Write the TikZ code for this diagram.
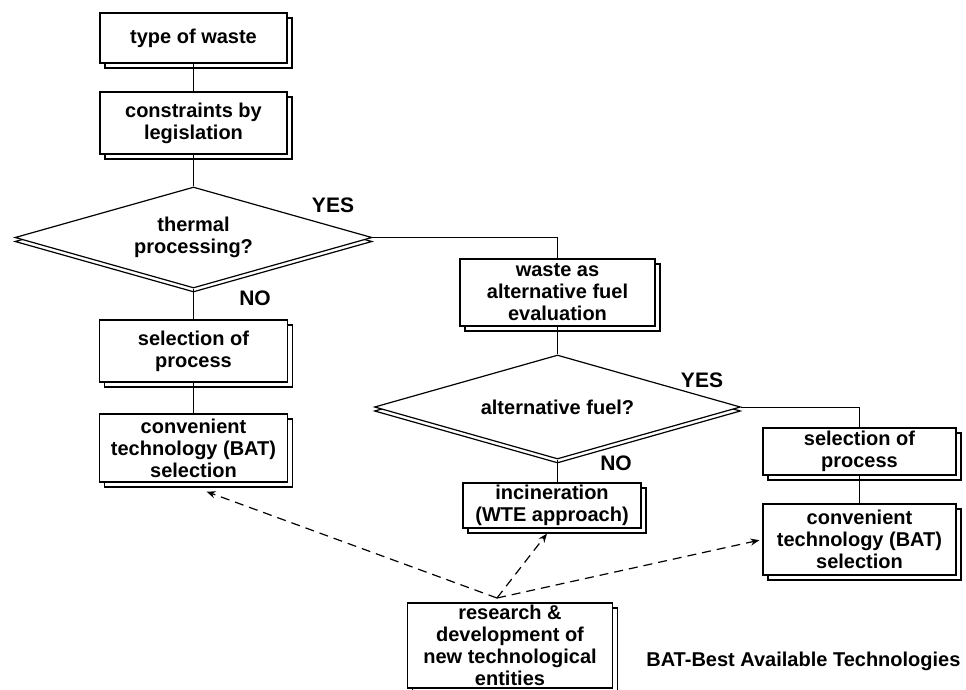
\documentclass[tikz,border=0pt]{standalone}
\usepackage{fontspec}
\setmainfont{Liberation Sans}
\usetikzlibrary{shapes.geometric,shadows,arrows.meta}

\tikzset{
  every node/.style={font=\bfseries\fontsize{20}{22}\selectfont},
  stepbox/.style={draw, fill=white, line width=1.2pt, align=center, inner sep=2pt,
    copy shadow={shadow xshift=5pt, shadow yshift=-5pt}},
  decision/.style={draw, fill=white, line width=1.2pt, shape=diamond, aspect=3.5,
    inner sep=0pt, align=center,
    copy shadow={shadow xshift=0pt, shadow yshift=-4pt}},
  flow/.style={line width=1pt},
  rdarrow/.style={line width=1.2pt, dash pattern=on 9pt off 6pt,
    -{Stealth[length=9pt,width=7pt]}},
  answer/.style={font=\bfseries\fontsize{21}{22}\selectfont}
}

\begin{document}
\begin{tikzpicture}[x=1pt,y=-1pt]
\useasboundingbox (0,0) rectangle (966,689);

% left column
\node[stepbox, minimum width=187, minimum height=50] (type) at (193.5,38) {type of waste};
\node[stepbox, minimum width=187, minimum height=62] (constr) at (193.5,123) {constraints by\\legislation};
\node[decision, minimum width=357, minimum height=101] (thermal) at (193.5,237.5) {thermal\\processing?};
\node[stepbox, minimum width=188, minimum height=62] (selL) at (193.5,351) {selection of\\process};
\node[stepbox, minimum width=188, minimum height=68] (convL) at (193.5,448) {convenient\\technology (BAT)\\selection};

% middle column
\node[stepbox, minimum width=195, minimum height=67] (waste) at (557.5,292.5) {waste as\\alternative fuel\\evaluation};
\node[decision, minimum width=366, minimum height=104] (alt) at (557.5,407) {alternative fuel?};
\node[stepbox, minimum width=178, minimum height=45] (incin) at (552,505.5) {incineration\\(WTE approach)};
\node[stepbox, minimum width=205, minimum height=85] (research) at (510,645.5) {research \&\\development of\\new technological\\entities};

% right column
\node[stepbox, minimum width=193, minimum height=47] (selR) at (859.5,451.5) {selection of\\process};
\node[stepbox, minimum width=193, minimum height=71] (convR) at (859.5,539.5) {convenient\\technology (BAT)\\selection};

% answers
\node[answer] (yes1) at (333,205) {YES};
\node[answer] (no1) at (255,298) {NO};
\node[answer] (yes2) at (702,380) {YES};
\node[answer] (no2) at (616,463) {NO};

% footnote
\node[anchor=east] (note) at (964,661) {BAT-Best Available Technologies};

% solid flow lines
\draw[flow] (type) -- (constr);
\draw[flow] (constr) -- (thermal.north);
\draw[flow] (thermal.east) -| (waste.north);
\draw[flow] (thermal.south) -- (selL.north);
\draw[flow] (selL) -- (convL);
\draw[flow] (waste) -- (alt.north);
\draw[flow] (alt.east) -| (selR.north);
\draw[flow] (alt.south) -- (alt.south |- incin.north);
\draw[flow] (selR) -- (convR);

% research links
\coordinate (rd) at (497,598);
\coordinate (tL) at ([xshift=13pt,yshift=-9pt]convL.south);
\coordinate (tM) at ([xshift=-5pt,yshift=-5pt]incin.south);
\draw[rdarrow] (rd) -- (tL);
\draw[rdarrow] (rd) -- (tM);
\draw[rdarrow, shorten >=3pt] (rd) -- (convR.west);
\end{tikzpicture}
\end{document}
